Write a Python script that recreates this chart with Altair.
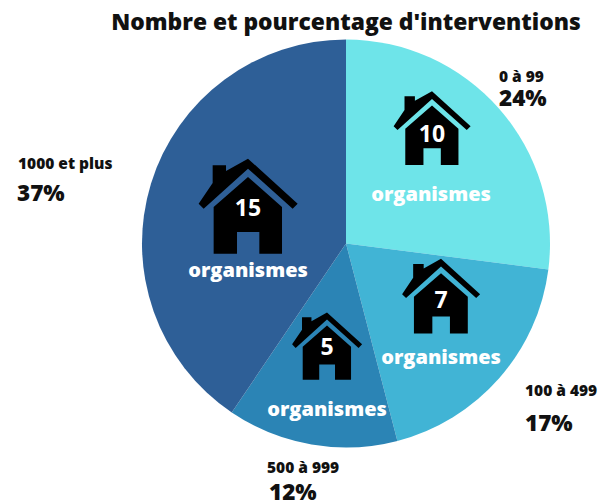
import altair as alt
import pandas as pd

# Data
categories = ["0 à 99", "100 à 499", "500 à 999", "1000 et plus"]
percents = [24, 17, 12, 37]
organismes = [10, 7, 5, 15]
colors = ["#6EE4E9", "#41B4D5", "#2B84B5", "#2E5F97"]

FONT = "Open Sans"
CX, CY, R = 346, 243.5, 204
TOP = 40

# house glyph outline (normalised below)
roof = [(173,25),(322,160),(307,175),(173,55),(40,175),(25,160),(67,98),(67,45),(107,45),(107,62)]
body = [(173,80),(275,170),(275,310),(207,310),(207,245),(140,245),(140,310),(70,310),(70,170)]
def path(points):
    return "M" + "L".join(f"{(x-173)/148.5:.3f},{(y-167)/148.5:.3f}" for x, y in points) + "Z"
HOUSE = path(roof) + path(body)

# placement of icons and annotations (image pixels)
house_x = [432, 441, 327, 248]
house_y = [128, 296, 346, 206]
house_w = [77, 78, 70, 99]
num_x = [432, 441, 327, 248]
num_y = [135, 301, 348, 209]
org_x = [431, 441, 327, 248]
org_y = [195, 358, 410, 271]
cat_x = [499, 525, 267, 18]
cat_y = [77, 391, 468, 164]
pct_x = [499, 525, 269, 17]
pct_y = [99, 424, 493, 194]

df = pd.DataFrame({
    "cat": categories, "pct": percents, "n": organismes, "i": range(4),
    "pct_label": [f"{p}%" for p in percents],
    "org": ["organismes"] * 4,
    "hx": house_x, "hy": house_y, "hs": [w * w for w in house_w],
    "nx": num_x, "ny": num_y, "ox": org_x, "oy": org_y,
    "cx": cat_x, "cy": cat_y, "px": pct_x, "py": pct_y,
})

W, H = 594, 464
xs = alt.Scale(domain=[8, 602], range=[0, W])
ys = alt.Scale(domain=[TOP, TOP + H], range=[0, H])
base = alt.Chart(df)

pie = base.mark_arc(outerRadius=R).encode(
    theta=alt.Theta("n:Q", stack=True),
    order=alt.Order("i:O"),
    color=alt.Color("cat:N", scale=alt.Scale(domain=categories, range=colors), legend=None),
    x=alt.value(CX - 8),
    y=alt.value(CY - TOP),
)

houses = base.mark_point(shape=HOUSE, filled=True, fill="#000000", opacity=1, strokeWidth=0).encode(
    x=alt.X("hx:Q", scale=xs, axis=None),
    y=alt.Y("hy:Q", scale=ys, axis=None),
    size=alt.Size("hs:Q", scale=None),
)

def text(field, xf, yf, size, color, align, weight=700):
    return base.mark_text(font=FONT, fontWeight=weight, fontSize=size, color=color,
                          align=align, baseline="middle").encode(
        x=alt.X(f"{xf}:Q", scale=xs, axis=None),
        y=alt.Y(f"{yf}:Q", scale=ys, axis=None),
        text=f"{field}:N",
    )

nums = text("n", "nx", "ny", 23, "#FFFFFF", "center")
orgs = text("org", "ox", "oy", 20, "#FFFFFF", "center", 800)
cats = text("cat", "cx", "cy", 15.5, "#111111", "left", 800)
pcts = text("pct_label", "px", "py", 22.5, "#111111", "left", 800)

chart = alt.layer(pie, houses, nums, orgs, cats, pcts).properties(
    width=W, height=H,
    padding={"left": 0, "right": 0, "top": TOP - 8, "bottom": 0},
    autosize=alt.AutoSizeParams(type="none"),
    title=alt.TitleParams("Nombre et pourcentage d'interventions", font=FONT, fontSize=22.8,
                          fontWeight=800, color="#111111", anchor="middle", dx=41, offset=5),
).configure_view(stroke=None)

chart.save("out.html", embed_options={"renderer": "svg", "actions": False})
